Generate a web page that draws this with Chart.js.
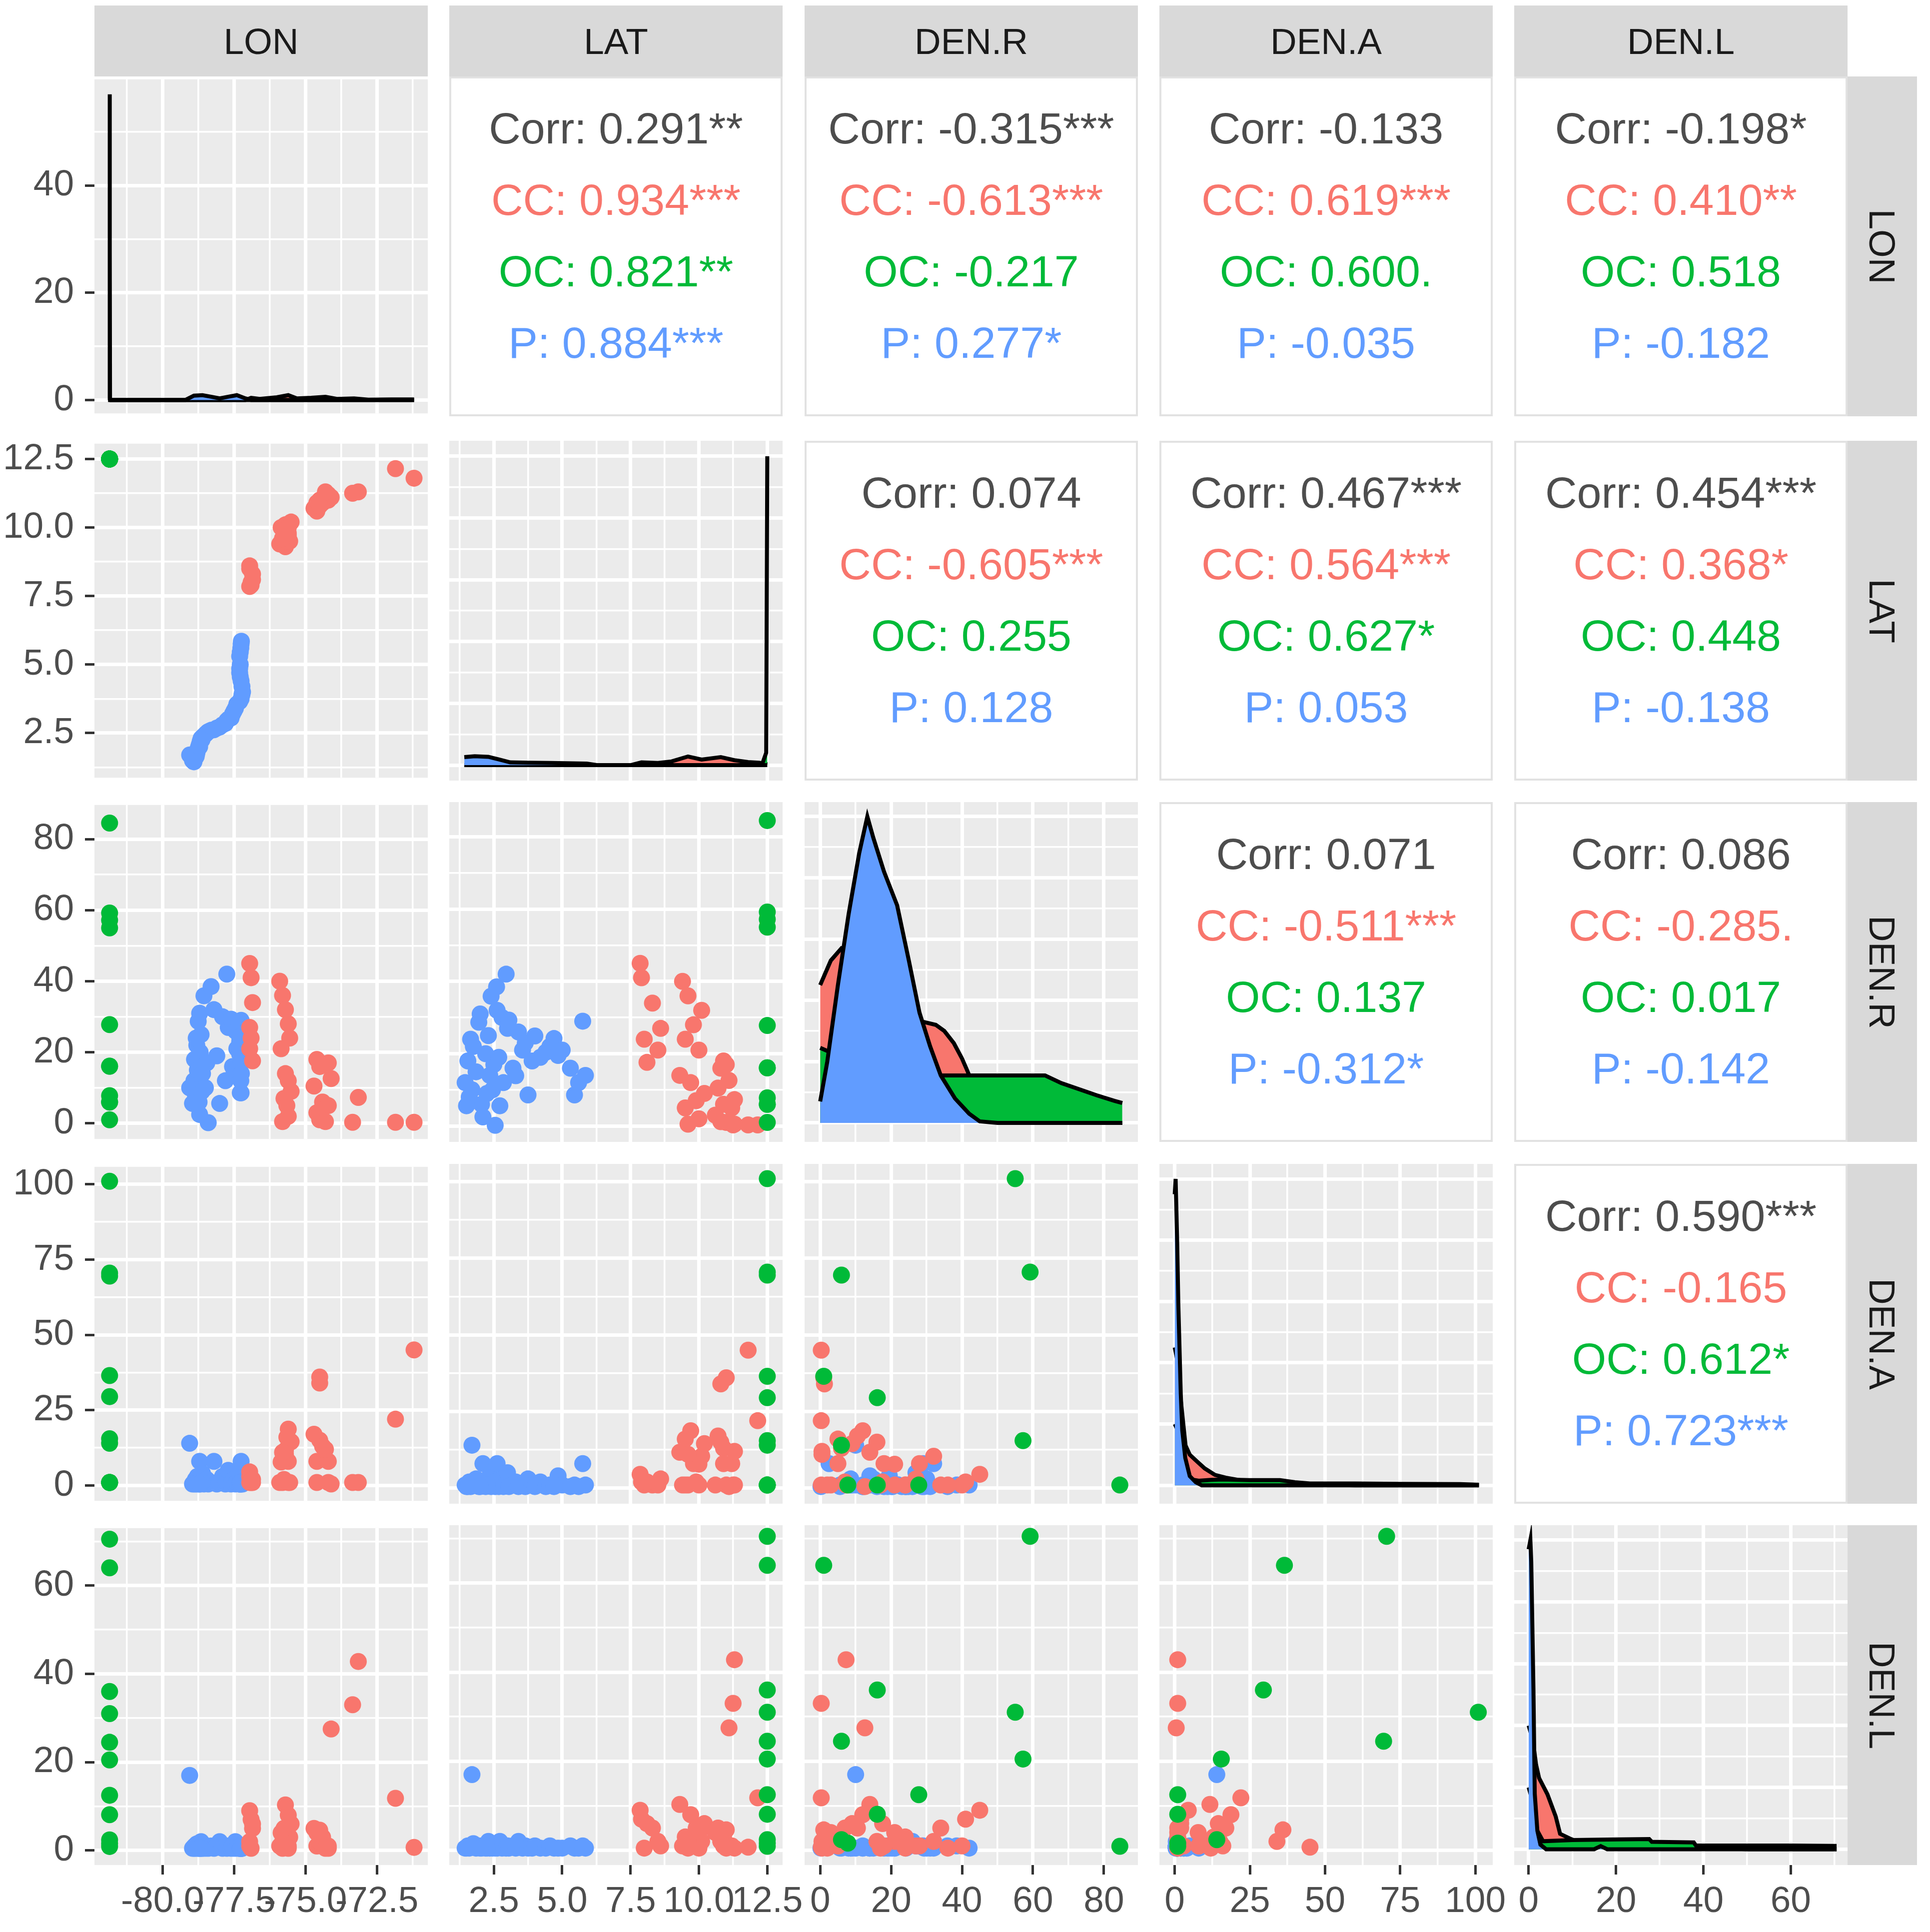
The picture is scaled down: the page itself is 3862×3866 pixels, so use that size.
<!DOCTYPE html>
<html>
<head>
<meta charset="utf-8">
<script src="https://cdn.jsdelivr.net/npm/chart.js@4.4.0/dist/chart.umd.min.js"></script>
<style>
  html, body { margin: 0; padding: 0; background: #ffffff; overflow: hidden; }
  #wrap { position: relative; width: 3862px; height: 3866px; overflow: hidden; font-family: "Liberation Sans", Arial, sans-serif; }
  #wrap canvas { position: absolute; }
  .strip { position: absolute; background: #d9d9d9; color: #1a1a1a; font-size: 73px; display: flex; align-items: center; justify-content: center; }
  .strip span { white-space: nowrap; }
  .strip.right span { transform: rotate(90deg); }
  .cor { position: absolute; background: #ffffff; border: 4px solid #e2e2e2; box-sizing: border-box; }
  .cor div { position: absolute; left: 0; right: 0; text-align: center; font-size: 88px; line-height: 88px; white-space: nowrap; }
</style>
</head>
<body>
<div id="wrap"></div>
<script>
// variables and groups
const varNames = ['LON', 'LAT', 'DEN.R', 'DEN.A', 'DEN.L'];
const groupNames = ['CC', 'OC', 'P'];
const groupColors = ['#F8766D', '#00BA38', '#619CFF'];

// CC group (red)
const ccLON = [-76.95, -76.9, -76.85, -76.95, -76.9, -76.95, -76.85,
  -75.9, -75.8, -75.7, -75.6, -75.55, -75.85, -75.7, -75.6, -75.5, -75.75, -75.65, -75.6, -75.8,
  -74.6, -74.2, -74.5, -74.1, -74.7, -74.4, -74.2, -74.6, -74.5, -74.5, -74.3,
  -73.15, -73.35, -71.85, -71.2];
const ccLAT = [7.85, 7.9, 8.3, 8.6, 8.0, 8.5, 8.1,
  9.4, 9.6, 10.1, 9.8, 9.5, 10.0, 9.3, 9.7, 10.2, 9.9, 9.5, 10.0, 9.6,
  10.9, 11.0, 10.8, 11.1, 10.7, 10.9, 11.2, 10.6, 11.0, 10.8, 11.3,
  11.3, 11.25, 12.15, 11.8];
const ccDENR = [45, 41, 34, 27, 24, 21, 17.6,
  40, 36, 32, 28, 24, 21, 14, 12, 9, 7, 5, 2, 0.5,
  18, 17, 16, 12.6, 10.5, 6, 5, 3, 1, 1.2, 0.5,
  7.3, 0.3, 0.3, 0.3];
const ccDENA = [4.5, 2, 1, 3, 1, 1, 2,
  1, 1, 10.4, 8, 1, 7.8, 11.7, 18.7, 14.5, 2, 16, 1, 11,
  8, 1, 15, 0.5, 17, 13, 8, 1, 36, 34, 12,
  1, 1, 22, 45];
const ccDENL = [9, 7, 5, 1, 0.5, 2, 6,
  1, 0.5, 2, 1, 3, 4, 10.3, 8, 6, 5, 1, 0.5, 2,
  1, 0.5, 2, 27.5, 5, 3, 1, 4, 4.6, 2, 0.5,
  42.8, 33, 11.8, 0.7];

// OC group (green)
const ocLON = [-81.85, -81.85, -81.85, -81.85, -81.85, -81.85, -81.85, -81.85, -81.85, -81.85, -81.85];
const ocLAT = [12.5, 12.5, 12.5, 12.5, 12.5, 12.5, 12.5, 12.5, 12.5, 12.5, 12.5];
const ocDENR = [55, 59.2, 6, 1, 16.1, 57.2, 6, 7.8, 16.1, 27.8, 84.5];
const ocDENA = [101, 70.5, 69.5, 36.5, 29.5, 15.5, 14, 1, 1, 1, 1];
const ocDENL = [31, 70.5, 24.5, 64, 36, 20.5, 2.4, 1.6, 8.1, 12.5, 0.9];

// P group (blue)
const pLON = [-78.9, -78.88, -78.85, -79.05, -78.8, -78.78, -78.75, -78.72, -78.7, -78.68,
  -78.65, -78.6, -78.55, -78.5, -78.45, -78.4, -78.3, -78.2, -78.1, -78.0,
  -77.9, -77.8, -77.75, -77.7, -77.6, -77.55, -77.5, -77.45, -77.4, -77.3,
  -77.25, -77.22, -77.2, -77.22, -77.25, -77.28, -77.3, -77.3, -77.28, -77.3,
  -77.28, -77.26, -77.25, -77.24, -78.95, -78.82, -78.62, -78.7];
const pLAT = [1.45, 1.55, 1.6, 1.7, 1.75, 1.85, 1.95, 2.05, 2.1, 2.2,
  2.3, 2.35, 2.4, 2.45, 2.5, 2.55, 2.6, 2.62, 2.68, 2.72,
  2.8, 2.85, 2.95, 3.0, 3.05, 3.2, 3.3, 3.4, 3.55, 3.65,
  3.75, 3.9, 4.0, 4.2, 4.4, 4.55, 4.7, 4.85, 5.0, 5.3,
  5.45, 5.6, 5.75, 5.85, 1.5, 1.65, 2.25, 2.0];
const pDENR = [12, 18, 8, 10, 22, 15, 28.7, 6, 2.5, 20,
  25, 14, 35.9, 10, 17, 0.2, 38.5, 32, 19, 5.6,
  30, 12, 42, 27, 29.3, 16, 13.9, 26, 21, 23,
  8.6, 18, 24.9, 19, 20.4, 22, 24.2, 19.5, 21, 16,
  8.6, 12, 29, 14, 5.6, 24, 9, 31];
const pDENA = [1, 0.5, 2, 14, 1, 3, 0.5, 1, 8, 0.5,
  1, 4, 0.5, 1, 2, 0.5, 1, 8, 0.5, 1,
  3, 0.5, 1, 5, 0.5, 1, 2, 0.5, 1, 0.5,
  3, 1, 0.5, 2, 0.5, 1, 0.5, 4, 1, 0.5,
  1, 0.5, 8, 1, 0.5, 0.5, 1, 0.5];
const pDENL = [0.5, 1, 0.5, 17, 1.5, 0.5, 1, 0.5, 1, 0.5,
  2, 0.5, 1, 0.5, 1, 0.5, 1, 0.5, 1, 2,
  0.5, 1, 0.5, 1, 0.5, 1, 0.5, 2, 0.5, 1,
  0.5, 0.5, 1, 0.5, 0.5, 1, 0.5, 0.5, 0.5, 1,
  0.5, 0.5, 1, 0.5, 0.5, 1, 0.5, 0.5];

// density curves, [x, density]
const lonDensCC = [[-81.85, 0], [-77.1, 0], [-76.9, 0.4], [-76.6, 0.2], [-76.0, 0.5], [-75.6, 0.9], [-75.3, 0.3], [-74.8, 0.4], [-74.3, 0.6], [-73.9, 0.2], [-73.3, 0.3], [-72.8, 0.05], [-72.0, 0.1], [-71.5, 0.1], [-71.2, 0.1]];
const lonDensOC = [[-81.85, 0], [-81.848, 42], [-81.846, 57], [-81.84, 28], [-81.835, 0], [-71.2, 0]];
const lonDensP = [[-81.85, 0], [-79.2, 0], [-78.9, 0.8], [-78.6, 0.9], [-78.3, 0.6], [-78.0, 0.3], [-77.7, 0.6], [-77.4, 0.9], [-77.1, 0.3], [-76.9, 0], [-71.2, 0]];

const latDensCC = [[1.42, 0], [7.5, 0], [7.9, 0.9], [8.5, 0.7], [9.0, 1.2], [9.6, 2.8], [10.1, 1.8], [10.8, 2.6], [11.3, 1.6], [11.8, 1.0], [12.2, 0.8], [12.5, 0.3]];
const latDensOC = [[1.42, 0], [12.3, 0], [12.46, 4], [12.5, 100]];
const latDensP = [[1.42, 2.6], [1.8, 2.9], [2.3, 2.7], [2.7, 1.8], [3.1, 0.9], [3.8, 0.8], [4.6, 0.7], [5.4, 0.6], [5.9, 0.5], [6.3, 0], [12.5, 0]];

const denrDensCC = [[0, 45], [3, 53], [6, 57], [10, 55], [15, 45], [20, 38], [25, 34], [29, 33], [32.6, 32], [35, 30], [37.7, 26], [40, 21], [41.5, 17], [44, 10], [47, 4], [50, 1], [55, 0], [85.2, 0]];
const denrDensOC = [[0, 24.5], [3, 23], [6, 21], [10, 19], [15, 17], [20, 16], [25, 15.5], [35, 15.5], [50, 15.5], [63.4, 15.5], [68, 13], [73, 11], [78, 9], [83, 7.2], [85.2, 6.5]];
const denrDensP = [[0, 7], [2, 20], [5, 45], [8, 68], [11, 88], [13.3, 100], [15, 93], [18, 82], [21.7, 71], [25, 53], [28, 36], [31, 25], [34, 15.5], [38, 8], [42, 3], [45, 0.5], [50, 0], [85.2, 0]];

const denaDensCC = [[0, 45], [1, 40], [2, 28], [3.6, 13], [5, 10], [7.4, 7.8], [10, 5.5], [13.4, 3.4], [17, 2.5], [21, 1.8], [25, 1.2], [30, 0.8], [36, 0.9], [40, 0.7], [45, 0.5], [50, 0.2], [60, 0], [101.2, 0]];
const denaDensOC = [[0, 20], [1, 18], [2, 10], [3, 5], [5, 2], [8, 1.5], [12, 1.8], [16, 1.9], [25, 1.7], [35, 1.7], [40, 1.0], [45, 0.6], [60, 0.6], [75, 0.5], [95, 0.4], [101.2, 0.2]];
const denaDensP = [[0, 95], [0.3, 100], [0.8, 80], [1.2, 59], [2, 30], [2.5, 18], [3.5, 9], [5, 3], [7, 1], [9, 0], [101.2, 0]];

const denlDensCC = [[0, 40], [1, 35], [1.7, 27.4], [2.4, 23], [4.3, 17.8], [6.2, 10.6], [7.2, 5], [9.7, 3.3], [12, 2], [20, 1], [30, 1], [40, 0.6], [45, 0.3], [50, 0], [70.5, 0]];
const denlDensOC = [[0, 20], [1, 15], [2, 6], [3.3, 2.6], [10, 3], [20, 3.2], [27.6, 3.3], [28.2, 2.4], [37.8, 2.2], [38.3, 1.2], [50, 1.2], [60, 1.2], [70.5, 1.1]];
const denlDensP = [[0, 97], [0.4, 100], [0.6, 93], [1.1, 52], [1.4, 18], [2, 6], [2.7, 1.5], [4, 0], [15, 0], [16.5, 1], [18, 0], [70.5, 0]];

// axis ranges, breaks and tick labels
const lonRange = [-82.38, -70.72];
const lonMajor = [-80, -77.5, -75, -72.5];
const lonMinor = [-81.25, -78.75, -76.25, -73.75, -71.25];
const lonLabels = ['-80.0', '-77.5', '-75.0', '-72.5'];

const latRange = [0.87, 13.06];
const latMajor = [2.5, 5, 7.5, 10, 12.5];
const latMinor = [1.25, 3.75, 6.25, 8.75, 11.25];
const latLabels = ['2.5', '5.0', '7.5', '10.0', '12.5'];

const denrRange = [-4.4, 89.6];
const denrMajor = [0, 20, 40, 60, 80];
const denrMinor = [10, 30, 50, 70];
const denrLabels = ['0', '20', '40', '60', '80'];

const denaRange = [-5.1, 105.8];
const denaMajor = [0, 25, 50, 75, 100];
const denaMinor = [12.5, 37.5, 62.5, 87.5];
const denaLabels = ['0', '25', '50', '75', '100'];

const denlRange = [-3.3, 73.0];
const denlMajor = [0, 20, 40, 60];
const denlMinor = [10, 30, 50, 70];
const denlLabels = ['0', '20', '40', '60'];

// y scales of the density panels (first one is labelled on the left)
const lonDensRange = [-2.5, 59.8];
const lonDensMajor = [0, 20, 40];
const lonDensMinor = [10, 30, 50];
const lonDensLabels = ['0', '20', '40'];
const diagRanges = [lonDensRange, [-5, 105], [-6.2, 104.7], [-6.0, 104.9], [-5.1, 104.8]];
const diagMajor = [0, 20, 40, 60, 80, 100];
const diagMinor = [10, 30, 50, 70, 90];

// correlation text, upper panels in order (row, col)
const corPairs = [[0, 1], [0, 2], [0, 3], [0, 4], [1, 2], [1, 3], [1, 4], [2, 3], [2, 4], [3, 4]];
const corAll = ['0.291**', '-0.315***', '-0.133', '-0.198*', '0.074', '0.467***', '0.454***', '0.071', '0.086', '0.590***'];
const corCC = ['0.934***', '-0.613***', '0.619***', '0.410**', '-0.605***', '0.564***', '0.368*', '-0.511***', '-0.285.', '-0.165'];
const corOC = ['0.821**', '-0.217', '0.600.', '0.518', '0.255', '0.627*', '0.448', '0.137', '0.017', '0.612*'];
const corP = ['0.884***', '0.277*', '-0.035', '-0.182', '0.128', '0.053', '-0.138', '-0.312*', '-0.142', '0.723***'];

// layout of the grid
const cols = [189, 899, 1610, 2320, 3030];
const rows = [153, 882, 1605, 2329, 3052];
const PW = 667, PH = 680;
const M = 60;          // spare room round each canvas so labels are not clipped
const Y_AXIS_W = 189;  // left label band
const X_AXIS_H = 134;  // bottom label band
const FONT = 'Liberation Sans';

const wrap = document.getElementById('wrap');

const axes = [
  {range: lonRange, major: lonMajor, minor: lonMinor, labels: lonLabels},
  {range: latRange, major: latMajor, minor: latMinor, labels: latLabels},
  {range: denrRange, major: denrMajor, minor: denrMinor, labels: denrLabels},
  {range: denaRange, major: denaMajor, minor: denaMinor, labels: denaLabels},
  {range: denlRange, major: denlMajor, minor: denlMinor, labels: denlLabels}
];
const diagAxes = diagRanges.map((r, i) => i === 0
  ? {range: r, major: lonDensMajor, minor: lonDensMinor, labels: lonDensLabels}
  : {range: r, major: diagMajor, minor: diagMinor, labels: diagMajor.map(String)});

const groupData = [
  [ccLON, ccLAT, ccDENR, ccDENA, ccDENL],
  [ocLON, ocLAT, ocDENR, ocDENA, ocDENL],
  [pLON, pLAT, pDENR, pDENA, pDENL]
];
const groupDens = [
  [lonDensCC, latDensCC, denrDensCC, denaDensCC, denlDensCC],
  [lonDensOC, latDensOC, denrDensOC, denaDensOC, denlDensOC],
  [lonDensP, latDensP, denrDensP, denaDensP, denlDensP]
];

// grey panel background like ggplot
const panelBg = {
  id: 'panelBg',
  beforeDraw(chart) {
    const a = chart.chartArea, c = chart.ctx;
    c.save();
    c.fillStyle = '#ebebeb';
    c.fillRect(a.left, a.top, a.right - a.left, a.bottom - a.top);
    c.restore();
  }
};

function isMajor(ax, v) {
  return ax.major.some(m => Math.abs(m - v) < 1e-9);
}

function scaleOpts(ax, show, isX) {
  const all = ax.major.concat(ax.minor).sort((a, b) => a - b);
  return {
    type: 'linear',
    min: ax.range[0],
    max: ax.range[1],
    afterBuildTicks: s => { s.ticks = all.map(v => ({value: v})); },
    afterFit: s => {
      if (isX) s.height = show ? X_AXIS_H : 0;
      else s.width = show ? Y_AXIS_W : 0;
    },
    border: {display: false},
    grid: {
      color: '#ffffff',
      lineWidth: c => isMajor(ax, c.tick.value) ? 7 : 3.5,
      drawTicks: show,
      tickLength: 19,
      tickColor: c => isMajor(ax, c.tick.value) ? '#333333' : 'rgba(0,0,0,0)',
      tickWidth: c => isMajor(ax, c.tick.value) ? 5 : 0
    },
    ticks: {
      display: show,
      autoSkip: false,
      maxRotation: 0,
      minRotation: 0,
      padding: isX ? 11 : 22,
      color: '#4d4d4d',
      font: {family: FONT, size: 73},
      callback: v => {
        const i = ax.major.findIndex(m => Math.abs(m - v) < 1e-9);
        return i < 0 ? '' : ax.labels[i];
      }
    }
  };
}

function makePanel(r, c, type, datasets, xAx, yAx) {
  const showY = c === 0, showX = r === 4;
  const yw = showY ? Y_AXIS_W : 0, xh = showX ? X_AXIS_H : 0;
  const left = cols[c] - M - yw, top = rows[r] - M;
  const w = M + yw + PW + M, h = M + PH + xh + M;
  const cv = document.createElement('canvas');
  cv.width = w; cv.height = h;
  cv.style.left = left + 'px'; cv.style.top = top + 'px';
  cv.style.width = w + 'px'; cv.style.height = h + 'px';
  wrap.appendChild(cv);
  return new Chart(cv.getContext('2d'), {
    type: type,
    data: {datasets: datasets},
    options: {
      responsive: false,
      animation: false,
      devicePixelRatio: 1,
      events: [],
      layout: {padding: M},
      plugins: {legend: {display: false}, tooltip: {enabled: false}},
      scales: {x: scaleOpts(xAx, showX, true), y: scaleOpts(yAx, showY, false)}
    },
    plugins: [panelBg]
  });
}

function toXY(xs, ys) { return xs.map((x, i) => ({x: x, y: ys[i]})); }
function pairsXY(arr) { return arr.map(p => ({x: p[0], y: p[1]})); }

// draw order: green on top, then red, blue at the bottom
const scatterOrder = [1, 0, 2];
// densities: blue on top, then green, red at the bottom
const densOrder = [2, 1, 0];

for (let r = 0; r < 5; r++) {
  for (let c = 0; c <= r; c++) {
    if (r === c) {
      const ds = densOrder.map(g => ({
        data: pairsXY(groupDens[g][c]),
        borderColor: '#000000',
        borderWidth: 8,
        backgroundColor: groupColors[g],
        fill: 'origin',
        pointRadius: 0,
        tension: 0
      }));
      makePanel(r, c, 'line', ds, axes[c], diagAxes[r]);
    } else {
      const ds = scatterOrder.map(g => ({
        data: toXY(groupData[g][c], groupData[g][r]),
        backgroundColor: groupColors[g],
        borderWidth: 0,
        pointRadius: 17
      }));
      makePanel(r, c, 'scatter', ds, axes[c], axes[r]);
    }
  }
}

// upper triangle: correlation text
const lineOffsets = [104, 247, 390, 533];
const lineColors = ['#4d4d4d', groupColors[0], groupColors[1], groupColors[2]];
corPairs.forEach((p, k) => {
  const box = document.createElement('div');
  box.className = 'cor';
  box.style.left = cols[p[1]] + 'px';
  box.style.top = rows[p[0]] + 'px';
  box.style.width = PW + 'px';
  box.style.height = PH + 'px';
  const texts = ['Corr: ' + corAll[k], groupNames[0] + ': ' + corCC[k], groupNames[1] + ': ' + corOC[k], groupNames[2] + ': ' + corP[k]];
  texts.forEach((t, i) => {
    const d = document.createElement('div');
    d.textContent = t;
    d.style.color = lineColors[i];
    d.style.top = (lineOffsets[i] - 44 - 4) + 'px';
    box.appendChild(d);
  });
  wrap.appendChild(box);
});

// facet strips
varNames.forEach((v, j) => {
  const s = document.createElement('div');
  s.className = 'strip';
  s.style.left = cols[j] + 'px'; s.style.top = '11px';
  s.style.width = PW + 'px'; s.style.height = (rows[0] - 11) + 'px';
  s.innerHTML = '<span></span>';
  s.firstChild.textContent = v;
  wrap.appendChild(s);

  const rs = document.createElement('div');
  rs.className = 'strip right';
  rs.style.left = (cols[4] + PW) + 'px'; rs.style.top = rows[j] + 'px';
  rs.style.width = '139px'; rs.style.height = PH + 'px';
  rs.innerHTML = '<span></span>';
  rs.firstChild.textContent = v;
  wrap.appendChild(rs);
});
</script>
</body>
</html>
